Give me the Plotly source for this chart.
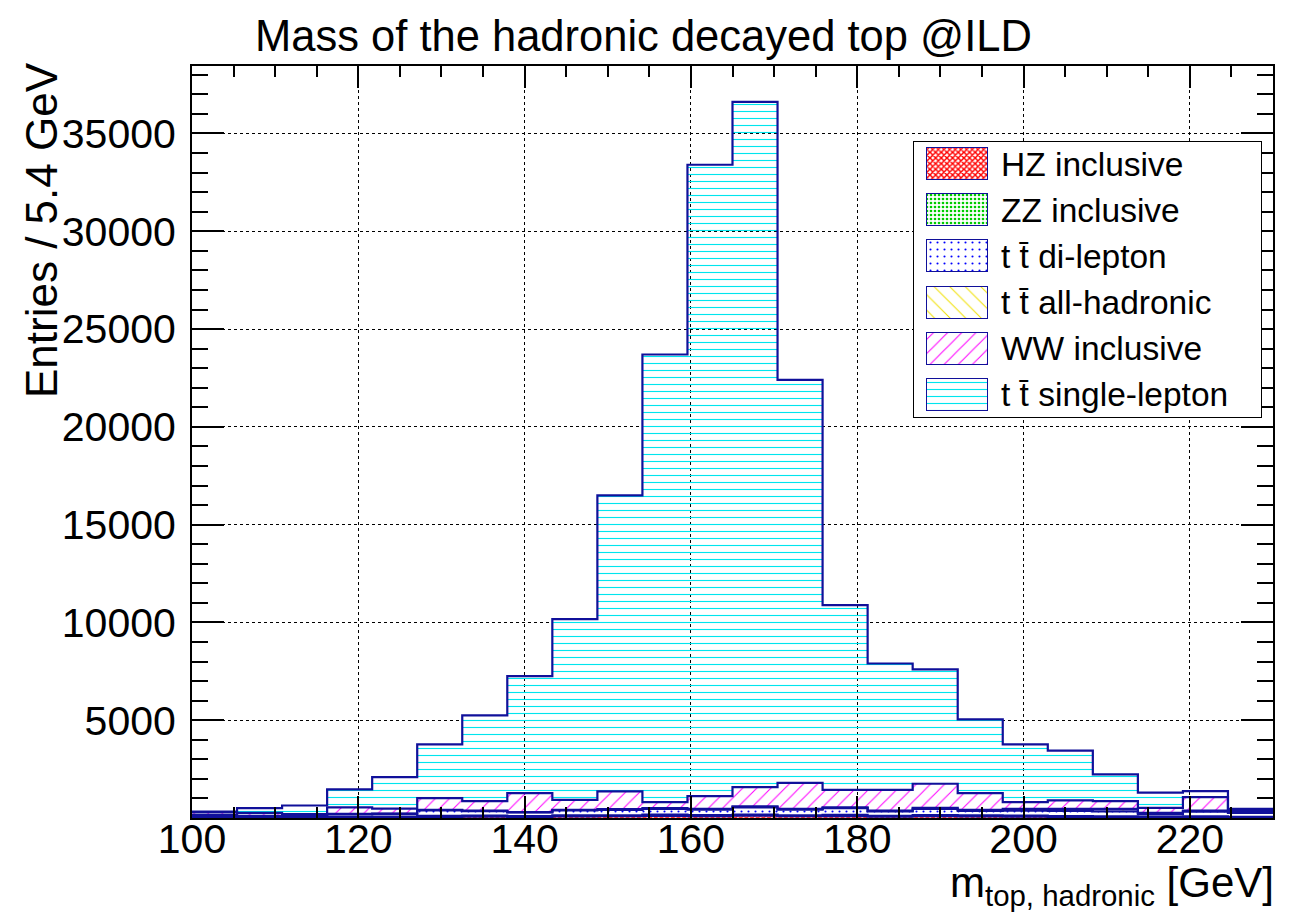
import numpy as np
import plotly.graph_objects as go

# Binning: 24 bins over 100-230 GeV
x_lo, x_hi, n_bins = 100.0, 230.0, 24

# Stacked samples, bottom to top (entries per bin)
hz_inclusive = [20, 20, 20, 30, 40, 60, 70, 60, 80, 90, 110, 100,
                120, 90, 100, 70, 90, 80, 70, 60, 50, 40, 40, 30]
zz_inclusive = [30, 20, 20, 30, 30, 50, 50, 40, 50, 50, 60, 50,
                60, 50, 60, 40, 60, 50, 50, 40, 40, 30, 40, 30]
tt_dilepton = [90, 60, 70, 130, 140, 280, 230, 180, 260, 270, 290, 280,
               360, 290, 340, 230, 320, 230, 260, 260, 250, 130, 250, 200]
tt_allhadronic = [10, 10, 10, 20, 20, 30, 30, 20, 30, 40, 40, 40,
                  50, 40, 50, 40, 50, 60, 90, 110, 130, 60, 50, 40]
ww_inclusive = [130, 155, 80, 330, 250, 595, 480, 970, 510, 910, 310, 650,
                990, 1330, 890, 1060, 1230, 850, 340, 430, 390, 260, 690, 120]
tt_singlelepton = [50, 235, 440, 920, 1610, 2745, 4390, 5980, 9240, 15140, 22890, 32280,
                   35040, 20600, 9440, 6460, 5850, 3770, 2950, 2550, 1370, 780, 300, 50]

sample_names = ["HZ inclusive", "ZZ inclusive", "t t\u0304 di-lepton",
                "t t\u0304 all-hadronic", "WW inclusive", "t t\u0304 single-lepton"]
samples = [hz_inclusive, zz_inclusive, tt_dilepton, tt_allhadronic, ww_inclusive, tt_singlelepton]

y_ticks = [5000, 10000, 15000, 20000, 25000, 30000, 35000]
y_tick_labels = ["5000", "10000", "15000", "20000", "25000", "30000", "35000"]
x_ticks = [100, 120, 140, 160, 180, 200, 220]

# Fill styles (hatch patterns on transparent background)
patterns = [
    dict(shape="x", fgcolor="#ff0000", size=4, solidity=0.6),
    dict(shape=".", fgcolor="#00cc00", size=4, solidity=0.35),
    dict(shape=".", fgcolor="#0000ff", size=7, solidity=0.07),
    dict(shape="\\", fgcolor="#f0e000", size=11, solidity=0.09),
    dict(shape="/", fgcolor="#ff00ff", size=10, solidity=0.1),
    dict(shape="-", fgcolor="#00e5ee", size=7, solidity=0.16),
]
outline = "#10109a"
font_family = "Liberation Sans, Arial, Helvetica, sans-serif"

# Figure and plot-area geometry (pixels)
W, H = 1295, 921
pl, pr, pt, pb = 192, 1273, 66, 818
pw, ph = pr - pl, pb - pt


def px_x(x):
    return (x - pl) / pw


def px_y(y):
    return (pb - y) / ph


edges = np.linspace(x_lo, x_hi, n_bins + 1)
centers = 0.5 * (edges[:-1] + edges[1:])
bin_w = edges[1] - edges[0]

fig = go.Figure()

for name, vals, pat in zip(sample_names, samples, patterns):
    fig.add_trace(go.Bar(
        x=centers, y=vals, width=bin_w, name=name, showlegend=False,
        marker=dict(color="rgba(0,0,0,0)", line=dict(width=0),
                    pattern=dict(fillmode="replace", bgcolor="rgba(0,0,0,0)", **pat)),
        xaxis="x", yaxis="y",
    ))

# Step outlines of each cumulative stack level
cum = np.cumsum(np.array(samples, dtype=float), axis=0)
for level in cum:
    fig.add_trace(go.Scatter(
        x=edges, y=np.append(level, level[-1]), mode="lines",
        line=dict(shape="hv", color=outline, width=2.2),
        showlegend=False, hoverinfo="skip", xaxis="x", yaxis="y",
    ))

# Legend drawn in an inset axis (pixel-like units inside the box)
box_l, box_r, box_t, box_b = 913, 1262, 141, 418
box_w, box_h = box_r - box_l, box_b - box_t
slot = box_h / 6.0
slot_centers = [slot * (i + 0.5) for i in range(6)]
for i, (pat, name) in enumerate(zip(patterns, sample_names)):
    fig.add_trace(go.Bar(
        y=[slot_centers[i]], x=[61], base=[14], width=32, orientation="h",
        marker=dict(color="rgba(0,0,0,0)", line=dict(width=1.5, color=outline),
                    pattern=dict(fillmode="replace", bgcolor="rgba(0,0,0,0)", **pat)),
        showlegend=False, hoverinfo="skip", xaxis="x2", yaxis="y2",
    ))

annotations = []
for i, name in enumerate(sample_names):
    annotations.append(dict(
        x=86, y=slot_centers[i], xref="x2", yref="y2", text=name, showarrow=False,
        xanchor="left", yanchor="middle", font=dict(size=33.5, color="black", family=font_family),
    ))

# Titles
annotations.append(dict(
    x=px_x(643), y=px_y(36), xref="paper", yref="paper",
    text="Mass of the hadronic decayed top @ILD", showarrow=False,
    xanchor="center", yanchor="middle", font=dict(size=43.5, color="black", family=font_family),
))
annotations.append(dict(
    x=px_x(1276), y=px_y(914), xref="paper", yref="paper",
    text="m<sub>top, hadronic</sub> [GeV]", showarrow=False,
    xanchor="right", yanchor="bottom", font=dict(size=42, color="black", family=font_family),
))
annotations.append(dict(
    x=px_x(42), y=px_y(60), xref="paper", yref="paper",
    text="Entries / 5.4 GeV", showarrow=False, textangle=-90,
    xanchor="center", yanchor="top", font=dict(size=44, color="black", family=font_family),
))

fig.update_layout(
    width=W, height=H,
    margin=dict(l=pl, r=W - pr, t=pt, b=H - pb),
    paper_bgcolor="white", plot_bgcolor="white",
    barmode="stack", bargap=0,
    font=dict(family=font_family, color="black"),
    annotations=annotations,
    shapes=[dict(
        type="rect", xref="x2", yref="y2", x0=0, x1=box_w, y0=0, y1=box_h,
        line=dict(color="black", width=2), fillcolor="white", layer="below",
    )],
    xaxis=dict(
        range=[x_lo, x_hi], tickvals=x_ticks, ticks="inside", ticklen=22, tickwidth=2,
        tickcolor="black", showline=True, linecolor="black", linewidth=2, mirror="ticks",
        showgrid=True, gridcolor="black", griddash="dot", gridwidth=1,
        minor=dict(dtick=5, tick0=100, ticks="inside", ticklen=11, tickwidth=2, tickcolor="black", showgrid=False),
        tickfont=dict(size=41, family=font_family, color="black"), zeroline=False,
        ticklabelstandoff=-16,
    ),
    yaxis=dict(
        range=[0, 38450], tickvals=y_ticks, ticktext=y_tick_labels, ticks="inside", ticklen=32, tickwidth=2,
        tickcolor="black", showline=True, linecolor="black", linewidth=2, mirror="ticks",
        showgrid=True, gridcolor="black", griddash="dot", gridwidth=1,
        minor=dict(dtick=1000, tick0=0, ticks="inside", ticklen=16, tickwidth=2, tickcolor="black", showgrid=False),
        tickfont=dict(size=41, family=font_family, color="black"), zeroline=False,
        ticklabelstandoff=6,
    ),
    xaxis2=dict(domain=[px_x(box_l), px_x(box_r)], range=[0, box_w], visible=False,
                anchor="y2", fixedrange=True),
    yaxis2=dict(domain=[px_y(box_b), px_y(box_t)], range=[box_h, 0], visible=False,
                anchor="x2", fixedrange=True),
)

fig.write_html("out.html")
